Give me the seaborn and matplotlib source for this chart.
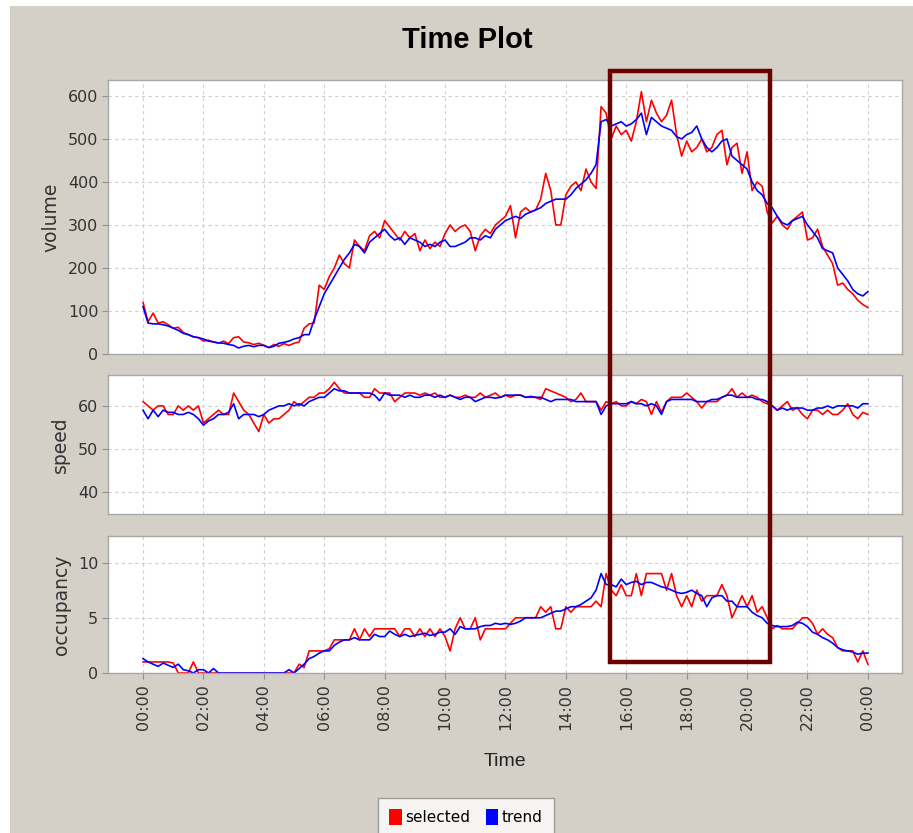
import numpy as np
import pandas as pd
import matplotlib
matplotlib.use("Agg")
import matplotlib.pyplot as plt
from matplotlib.patches import Rectangle, Patch
import seaborn as sns

# ---------------- data (10-minute samples, 00:00 .. 24:00) ----------------
volume_selected = [
    120, 75, 95, 72, 75, 68,
    60, 62, 50, 45, 40, 38,
    30, 32, 28, 25, 30, 24,
    38, 40, 28, 26, 22, 25,
    20, 15, 22, 18, 24, 20,
    25, 28, 60, 70, 72, 160,
    150, 180, 200, 230, 210, 200,
    265, 250, 240, 275, 285, 270,
    310, 295, 280, 265, 285, 270,
    280, 240, 265, 245, 260, 250,
    280, 300, 285, 295, 300, 285,
    240, 275, 290, 280, 300, 310,
    320, 345, 270, 330, 340, 330,
    335, 360, 420, 380, 300, 300,
    370, 390, 400, 380, 430, 400,
    385, 575, 560, 500, 530, 510,
    520, 495, 540, 610, 540, 590,
    560, 540, 555, 590, 510, 460,
    495, 470, 480, 500, 470, 480,
    510, 520, 440, 480, 490, 420,
    470, 380, 400, 390, 330, 305,
    320, 300, 290, 310, 320, 330,
    265, 270, 290, 250, 230, 210,
    160, 165, 150, 140, 125, 115,
    108,
]
volume_trend = [
    110, 72, 70, 70, 68, 65,
    60, 55, 48, 45, 40, 38,
    35, 30, 28, 26, 25, 22,
    20, 14, 18, 20, 17, 20,
    20, 15, 18, 25, 27, 30,
    35, 38, 45, 45, 80, 110,
    140, 160, 180, 200, 220, 235,
    255, 250, 235, 260, 270, 280,
    290, 275, 265, 270, 255, 270,
    265, 260, 250, 255, 250, 260,
    265, 250, 250, 255, 260, 270,
    270, 265, 275, 270, 290, 300,
    310, 315, 320, 315, 325, 330,
    335, 340, 350, 355, 360, 360,
    360, 370, 385, 395, 405, 420,
    440, 540, 545, 530, 535, 540,
    530, 535, 545, 560, 510, 550,
    540, 530, 525, 520, 505, 500,
    510, 515, 530, 500, 480, 470,
    480, 495, 500, 460, 450, 440,
    430, 400, 380, 370, 350, 340,
    320, 305, 300, 310, 315, 320,
    300, 285, 270, 245, 240, 235,
    200, 185, 170, 150, 140, 135,
    145,
]
speed_selected = [
    61, 60, 59, 60, 60, 58,
    58, 60, 59, 60, 59, 60,
    56, 57, 58, 59, 58, 58,
    63, 61, 59, 58, 56, 54,
    58, 56, 57, 57, 58, 59,
    61, 60, 61, 62, 62, 63,
    63, 64, 65.5, 64, 63, 63,
    63, 63, 62, 62, 64, 63,
    63, 63, 61, 62, 63, 63,
    63, 62.5, 63, 62.5, 63, 62,
    62, 62.5, 62, 62, 62.5, 62,
    62, 63, 62, 62.5, 63, 62,
    62.5, 62, 62.5, 62.5, 62, 62,
    62, 61.5, 64, 63.5, 63, 62.5,
    62, 61, 61.5, 63, 61, 61,
    61, 59, 61, 60.5, 61, 60,
    60, 61, 60.5, 61.5, 61, 58,
    61, 58.5, 61, 62, 62, 62,
    63, 62, 61, 59.5, 61, 61,
    61, 62, 62.5, 64, 62, 63,
    62, 62.5, 62, 61, 60.5, 60,
    59, 60, 61, 59, 59.5, 58,
    57, 59, 59, 58, 59, 58,
    58, 59, 60.5, 58, 57, 58.5,
    58,
]
speed_trend = [
    59, 57, 59, 57.5, 59, 58.5,
    58.5, 58, 58, 58.5, 58, 57,
    55.5, 56.5, 57, 58, 58, 58.5,
    60.5, 57, 58, 58, 58, 57.5,
    58, 59, 59.5, 60, 60, 60.5,
    60, 60.5, 60, 61, 61.5, 62,
    62, 63, 64, 63.5, 63.5, 63,
    63, 63, 63, 63, 62.5, 61.2,
    63, 62.5, 62.5, 62.5, 62, 62.5,
    62, 62, 62.5, 62.5, 62, 62.5,
    62, 62.5, 62, 61.5, 62, 62,
    61, 61.5, 62, 62, 61.8, 62,
    62.5, 62.5, 62.5, 62.5, 62, 62.2,
    62, 62, 61.5, 61, 61.5, 61.5,
    61.5, 61.5, 61, 61, 61, 61,
    61, 58, 60, 60.5, 60.5, 60.5,
    60.5, 61, 60.5, 60.5, 60, 60.5,
    60, 58, 61, 61.5, 61.5, 61.5,
    61.5, 61.5, 61, 61, 61, 61.5,
    61.5, 62, 62.5, 62.5, 62, 62,
    62, 62, 61.5, 61.5, 61, 60,
    59, 59.5, 59, 59.5, 59.5, 59.5,
    59, 59, 59.5, 59.5, 60, 59.5,
    60, 60, 60, 60, 59.5, 60.5,
    60.5,
]
occupancy_selected = [
    1, 1, 1, 1, 1, 1,
    0.9, 0, 0, 0, 1, 0,
    0, 0, 0, 0, 0, 0,
    0, 0, 0, 0, 0, 0,
    0, 0, 0, 0, 0, 0,
    0, 0.8, 0.5, 2, 2, 2,
    2, 2.2, 3, 3, 3, 3,
    4, 3, 4, 3.3, 4, 4,
    4, 4, 4, 3.3, 4, 4,
    3.3, 4, 3.3, 4, 3.3, 4,
    3.3, 2, 4, 5, 4, 4,
    5, 3, 4, 4, 4, 4,
    4, 4.5, 5, 5, 5, 5,
    5, 6, 5.5, 6, 4, 4,
    6, 5.5, 6, 6, 6, 6,
    6.5, 6, 9, 7.5, 7, 8,
    7, 7, 9, 7, 9, 9,
    9, 9, 7.5, 9, 7, 6,
    7, 6, 7.5, 6.5, 7, 7,
    7, 8, 7, 5, 6, 7,
    6, 7, 5.5, 6, 5, 4,
    4.3, 4, 4, 4, 4.5, 5,
    5, 4.5, 3.5, 4, 3.5, 3.2,
    2.3, 2, 2, 2, 1, 2,
    0.8,
]
occupancy_trend = [
    1.3, 1, 0.8, 0.6, 0.9, 0.7,
    0.5, 0.8, 0.3, 0.2, 0, 0.3,
    0.3, 0, 0.4, 0, 0, 0,
    0, 0, 0, 0, 0, 0,
    0, 0, 0, 0, 0, 0.3,
    0, 0.4, 0.8, 1.3, 1.5, 1.8,
    2, 2, 2.5, 2.8, 3, 3,
    3.2, 3, 3, 3, 3.5, 3.3,
    3.3, 3.8, 3.5, 3.3, 3.5, 3.3,
    3.4, 3.5, 3.6, 3.4, 3.5, 3.7,
    3.7, 4, 3.5, 4.2, 4, 4,
    4, 4.2, 4.3, 4.3, 4.5, 4.4,
    4.5, 4.4, 4.5, 4.7, 5, 5,
    5, 5, 5.2, 5.4, 5.6, 5.6,
    5.8, 6, 6, 6.2, 6.5, 6.8,
    7.5, 9, 8, 8, 7.8, 8.5,
    8, 8.2, 8.3, 8, 8.2, 8.2,
    8, 7.8, 7.7, 7.5, 7.3, 7.2,
    7.3, 7.5, 7.2, 7, 6, 6.8,
    7, 7, 6.5, 6.5, 6, 6,
    6, 5.5, 5.2, 5, 4.5, 4.3,
    4.2, 4.2, 4.2, 4.3, 4.6, 4.5,
    4.2, 3.7, 3.5, 3.2, 3, 2.7,
    2.3, 2.1, 2, 1.9, 1.7, 1.8,
    1.8,
]
series_names = ["selected", "trend"]
series_colors = ["#ff0000", "#0000ff"]
tick_hours = [0, 2, 4, 6, 8, 10, 12, 14, 16, 18, 20, 22, 24]
tick_labels = ["00:00", "02:00", "04:00", "06:00", "08:00", "10:00", "12:00",
               "14:00", "16:00", "18:00", "20:00", "22:00", "00:00"]
hours = np.arange(len(volume_selected)) / 6.0   # 10-minute sampling

panels = [
    ("volume", volume_selected, volume_trend, (0, 637), [0, 100, 200, 300, 400, 500, 600]),
    ("speed", speed_selected, speed_trend, (34.8, 67.2), [40, 50, 60]),
    ("occupancy", occupancy_selected, occupancy_trend, (0, 12.4), [0, 5, 10]),
]

# ---------------- figure ----------------
W, H = 913, 833
BG = "#d4d0c8"
fig = plt.figure(figsize=(W / 100, H / 100), dpi=100, facecolor=BG)

def fx(px):
    return px / W

def fy(py):
    return 1 - py / H

# white strips at the top and left edges
fig.patches.append(Rectangle((0, fy(6)), 1, 6 / H, transform=fig.transFigure,
                             facecolor="white", edgecolor="none", zorder=0))
fig.patches.append(Rectangle((0, 0), fx(10), 1, transform=fig.transFigure,
                             facecolor="white", edgecolor="none", zorder=0))

ax_boxes = [(80, 354), (375, 514), (536, 673)]
left_px, right_px = 108, 902
palette = dict(zip(series_names, series_colors))
label_x = [51, 60, 61]

axes = []
for i, ((name, sel, tr, ylim, yticks), (top, bot)) in enumerate(zip(panels, ax_boxes)):
    ax = fig.add_axes([fx(left_px), fy(bot), fx(right_px) - fx(left_px), (bot - top) / H])
    ax.set_facecolor("white")
    df = pd.DataFrame({
        "hour": np.concatenate([hours, hours]),
        "value": np.concatenate([sel, tr]),
        "series": [series_names[0]] * len(sel) + [series_names[1]] * len(tr),
    })
    sns.lineplot(data=df, x="hour", y="value", hue="series", palette=palette,
                 hue_order=series_names, ax=ax, legend=False, linewidth=1.2,
                 estimator=None, sort=False)
    ax.set_xlim(-1.16, 25.13)
    ax.set_ylim(*ylim)
    ax.set_yticks(yticks)
    ax.set_xticks(tick_hours)
    ax.grid(True, color="#cfcfcf", linestyle=(0, (3, 3)), linewidth=0.8)
    ax.set_axisbelow(True)
    for sp in ax.spines.values():
        sp.set_color("#a8a8a8")
        sp.set_linewidth(1.0)
    ax.tick_params(axis="y", direction="out", length=4, color="#909090",
                   labelsize=11.5, labelcolor="#333333", pad=3)
    ax.set_ylabel("")
    ax.set_xlabel("")
    fig.text(fx(label_x[i]), fy((top + bot) / 2), name, rotation=90,
             ha="center", va="center", fontsize=13.5, color="#333333")
    if i < 2:
        ax.tick_params(axis="x", length=0, labelbottom=False)
    else:
        ax.set_xticklabels(tick_labels, rotation=90)
        ax.tick_params(axis="x", direction="out", length=4, color="#909090",
                       labelsize=11.5, labelcolor="#333333", pad=4)
    axes.append(ax)

# title and x label
fig.text(fx(467), fy(40), "Time Plot", ha="center", va="center",
         fontsize=21, fontweight="bold", family="Liberation Sans", color="black")
fig.text(fx(505), fy(761), "Time", ha="center", va="center",
         fontsize=14, family="Liberation Sans", color="#222222")

# highlight rectangle
fig.patches.append(Rectangle((fx(610), fy(662)), fx(770) - fx(610), (662 - 71) / H,
                             transform=fig.transFigure, facecolor="none",
                             edgecolor="#6b0000", linewidth=3.2, zorder=10))

# legend
handles = [Patch(facecolor=c, edgecolor="none", label=n)
           for n, c in zip(series_names, series_colors)]
leg = fig.legend(handles=handles, loc="upper center", bbox_to_anchor=(fx(466), fy(798)),
                 ncol=2, frameon=True, fancybox=False, fontsize=11,
                 handlelength=0.8, handleheight=1.2, handletextpad=0.25,
                 columnspacing=1.0, borderpad=0.75, borderaxespad=0)
leg.get_frame().set_edgecolor("#8a8a8a")
leg.get_frame().set_linewidth(1.0)

fig.savefig("out.png", dpi=100, facecolor=BG)
